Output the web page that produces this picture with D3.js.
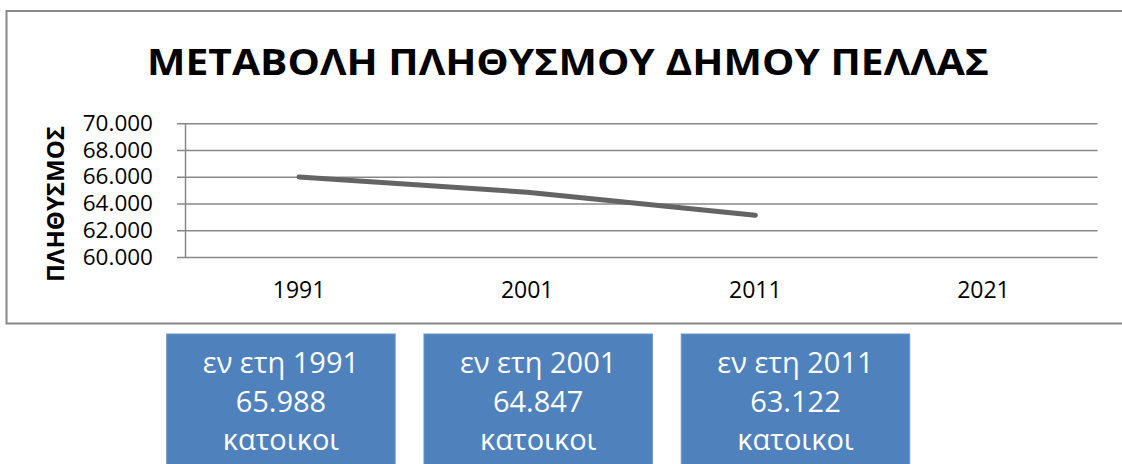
<!DOCTYPE html>
<html>
<head>
<meta charset="utf-8">
<script src="https://cdn.jsdelivr.net/npm/d3@7"></script>
<style>
  html, body { margin: 0; padding: 0; background: #fff; }
  svg { display: block; }
  text { font-family: "Open Sans", "Noto Sans", sans-serif; }
</style>
</head>
<body>
<svg id="chart" width="1122" height="464"></svg>
<script>
// ---- data ----
const title = "ΜΕΤΑΒΟΛΗ ΠΛΗΘΥΣΜΟΥ ΔΗΜΟΥ ΠΕΛΛΑΣ";
const yAxisTitle = "ΠΛΗΘΥΣΜΟΣ";
const categories = ["1991", "2001", "2011", "2021"];
const populationYears = ["1991", "2001", "2011"];
const populationValues = [65988, 64847, 63122];
const yTicks = [60000, 62000, 64000, 66000, 68000, 70000];
const boxYears = ["1991", "2001", "2011"];
const boxValues = [65988, 64847, 63122];
const boxPrefix = "εν ετη";
const boxSuffix = "κατοικοι";

// ---- drawing ----
const svg = d3.select("#chart");
const grLocale = d3.formatLocale({ decimal: ",", thousands: ".", grouping: [3], currency: ["", "€"] });
const fmt = grLocale.format(",d");

// chart frame
svg.append("rect")
  .attr("x", 6.5).attr("y", 11)
  .attr("width", 1130).attr("height", 312.5)
  .attr("fill", "#fff").attr("stroke", "#888").attr("stroke-width", 2);

// title
svg.append("text")
  .attr("x", 568).attr("y", 75)
  .attr("text-anchor", "middle")
  .attr("font-size", 35).attr("font-weight", "bold").attr("fill", "#000")
  .attr("textLength", 842).attr("lengthAdjust", "spacingAndGlyphs")
  .text(title);

const plotLeft = 185, plotRight = 1097.5, plotTop = 123.3, plotBottom = 257;
const x = d3.scaleBand().domain(categories).range([plotLeft, plotRight]);
const y = d3.scaleLinear().domain([60000, 70000]).range([plotBottom, plotTop]);

// y axis with gridlines
const yAxis = svg.append("g")
  .attr("transform", `translate(${plotLeft},0)`)
  .call(d3.axisLeft(y).tickValues(yTicks).tickFormat(fmt)
    .tickSizeInner(-(plotRight - plotLeft)).tickSizeOuter(0).tickPadding(0));
yAxis.select(".domain").attr("stroke", "#888").attr("stroke-width", 1.5);
yAxis.selectAll(".tick line")
  .attr("x1", -8)
  .attr("stroke", "#888").attr("stroke-width", 1.5);
yAxis.selectAll(".tick text")
  .attr("x", -32)
  .attr("font-size", 22.5).attr("fill", "#000")
  .attr("font-family", "'Open Sans', sans-serif");

// x axis labels
const xAxis = svg.append("g")
  .attr("transform", `translate(0,${plotBottom})`)
  .call(d3.axisBottom(x).tickSize(0).tickPadding(0));
xAxis.select(".domain").remove();
xAxis.selectAll(".tick text")
  .attr("y", 41).attr("dy", 0)
  .attr("font-size", 23).attr("fill", "#000")
  .attr("font-family", "'Open Sans', sans-serif");

// y axis title
svg.append("text")
  .attr("transform", "translate(64,204) rotate(-90)")
  .attr("text-anchor", "middle")
  .attr("font-size", 24).attr("font-weight", "bold").attr("fill", "#000")
  .text(yAxisTitle);

// population line
const linePts = populationYears.map((c, i) => ({ c, v: populationValues[i] }));
svg.append("path")
  .datum(linePts)
  .attr("fill", "none")
  .attr("stroke", "#646464").attr("stroke-width", 5)
  .attr("stroke-linecap", "round").attr("stroke-linejoin", "round")
  .attr("d", d3.line().x(d => x(d.c) + x.bandwidth() / 2).y(d => y(d.v)));

// info boxes
const bx = d3.scaleBand().domain(boxYears).range([166.7, 909.7]).paddingInner(0.112).paddingOuter(0);
const boxes = svg.selectAll("g.box").data(boxYears.map((yr, i) => ({ yr, v: boxValues[i] })))
  .join("g").attr("class", "box")
  .attr("transform", d => `translate(${bx(d.yr)},334)`);
boxes.append("rect")
  .attr("width", bx.bandwidth()).attr("height", 140)
  .attr("fill", "#4f81bd").attr("stroke", "#6a95c9").attr("stroke-width", 1);
const lines = d => [`${boxPrefix} ${d.yr}`, fmt(d.v), boxSuffix];
boxes.each(function (d) {
  const g = d3.select(this);
  lines(d).forEach((t, i) => {
    g.append("text")
      .attr("x", bx.bandwidth() / 2).attr("y", 39 + i * 38.5)
      .attr("text-anchor", "middle")
      .attr("font-size", 29).attr("fill", "#fff")
      .text(t);
  });
});
</script>
</body>
</html>
